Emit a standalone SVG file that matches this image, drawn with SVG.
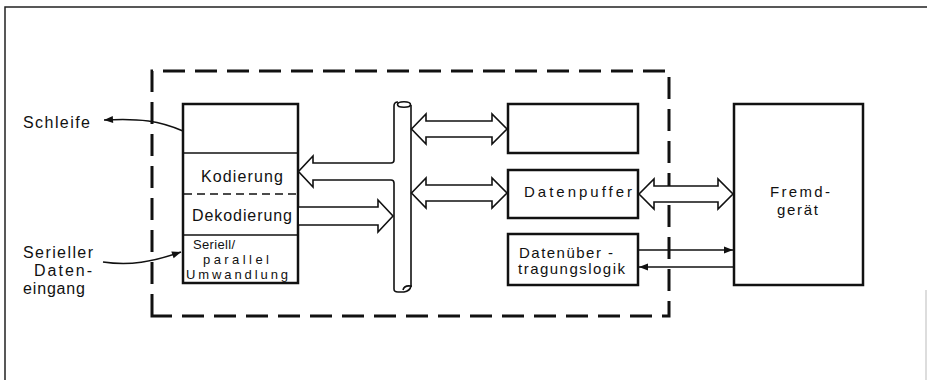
<svg xmlns="http://www.w3.org/2000/svg" width="927" height="380" viewBox="0 0 927 380">
<defs>
<marker id="ah" viewBox="0 0 10 10" refX="10" refY="5" markerWidth="16" markerHeight="9" markerUnits="userSpaceOnUse" orient="auto">
<path d="M0,1 L10,5 L0,9 Z" fill="#111"/>
</marker>
</defs>
<style>
.frame{fill:none;stroke:#222;stroke-width:1.5}
.dash{fill:none;stroke:#111;stroke-width:3;stroke-dasharray:22 10}
.box{fill:#fff;stroke:#111;stroke-width:2.5}
.div{fill:none;stroke:#111;stroke-width:1.5}
.blk{fill:#fff;stroke:#111;stroke-width:1.6;stroke-linejoin:miter}
.bus{fill:none;stroke:#111;stroke-width:1.6}
.ln{fill:none;stroke:#111;stroke-width:1.5}
text{font-family:"Liberation Sans",Arial,sans-serif;fill:#111;font-size:16px}
.sm{font-size:15px}
.xs{font-size:13px}
</style>
<rect width="927" height="380" fill="#fff"/>
<g id="frame">
<path class="frame" d="M5,380 L5,7 L927,7"/>
<path d="M926,290 L926,380" stroke="#bbb" stroke-width="1" fill="none"/>
</g>
<g id="boundary">
<path class="dash" d="M152,316 L152,71 L669,71 L669,316 Z"/>
</g>
<g id="block">
<rect class="box" x="183" y="104" width="115" height="179"/>
<line class="div" x1="183" y1="153" x2="298" y2="153"/>
<line class="div" x1="184" y1="194" x2="298" y2="194" stroke-dasharray="8 5"/>
<line class="div" x1="183" y1="235" x2="298" y2="235"/>
<text x="201" y="182" textLength="82" lengthAdjust="spacing">Kodierung</text>
<text x="192" y="221" textLength="100" lengthAdjust="spacing">Dekodierung</text>
<text class="xs" x="193" y="249" textLength="42" lengthAdjust="spacing">Seriell/</text>
<text class="xs" x="203" y="264" textLength="66" lengthAdjust="spacing">parallel</text>
<text class="xs" x="186" y="279" textLength="102" lengthAdjust="spacing">Umwandlung</text>
</g>
<g id="bus">
<path class="bus" d="M394,160 L394,106 Q394,102 398,102"/>
<ellipse class="bus" cx="404" cy="104.5" rx="6.5" ry="2.8"/>
<path class="bus" d="M411,105 L411,287"/>
<path class="bus" d="M394,183 L394,289 Q394,292 398,292 L404,292 Q410,291 411,286 Q404,285 403,290"/>
</g>
<g id="topbox">
<rect class="box" x="508" y="104" width="130" height="49"/>
</g>
<g id="puffer">
<rect class="box" x="508" y="170" width="130" height="48"/>
<text class="sm" x="524" y="197" textLength="108" lengthAdjust="spacing">Datenpuffer</text>
</g>
<g id="logik">
<rect class="box" x="508" y="234" width="130" height="51"/>
<text class="sm" x="519" y="258" textLength="94" lengthAdjust="spacing">Datenüber -</text>
<text class="sm" x="518" y="274" textLength="107" lengthAdjust="spacing">tragungslogik</text>
</g>
<g id="fremd">
<rect class="box" x="734" y="104" width="129" height="181"/>
<text class="sm" x="770" y="197" textLength="60" lengthAdjust="spacing">Fremd-</text>
<text class="sm" x="777" y="215" textLength="41" lengthAdjust="spacing">gerät</text>
</g>
<g id="labels">
<text x="23" y="128" textLength="67" lengthAdjust="spacing">Schleife</text>
<text x="23" y="258" textLength="70" lengthAdjust="spacing">Serieller</text>
<text x="34" y="276" textLength="58" lengthAdjust="spacing">Daten-</text>
<text x="23" y="294" textLength="62" lengthAdjust="spacing">eingang</text>
</g>
<g id="connectors">
<path class="blk" d="M394,160 Q394,163 391,163 L313,163 L313,156 L298.5,171.5 L313,187 L313,180 L391,180 Q394,180 394,183"/>
<path class="blk" d="M299,207 L378,207 L378,200 L393,216 L378,232 L378,225 L299,225"/>
<path class="blk" d="M411.5,129 L426,114 L426,121 L492,121 L492,114 L507,129 L492,144 L492,137 L426,137 L426,144 Z"/>
<path class="blk" d="M411.5,193 L426,178 L426,185 L492,185 L492,178 L507,193 L492,208 L492,201 L426,201 L426,208 Z"/>
<path class="blk" d="M639,194 L654,179 L654,186 L718,186 L718,179 L733,194 L718,209 L718,202 L654,202 L654,209 Z"/>
<path class="ln" d="M639,250 L733,250" marker-end="url(#ah)"/>
<path class="ln" d="M733,267 L639,267" marker-end="url(#ah)"/>
<path class="ln" d="M183,131 C160,121 140,118 104,120" marker-end="url(#ah)"/>
<path class="ln" d="M103,262 C130,266 152,262 181,252" marker-end="url(#ah)"/>
</g>
</svg>
